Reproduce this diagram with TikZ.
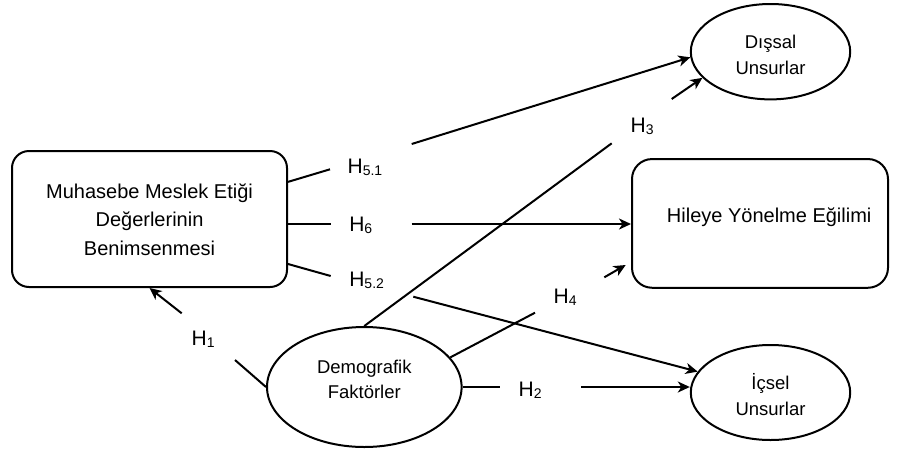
\documentclass[tikz,border=0pt]{standalone}
\usepackage{fontspec}
\setmainfont{Liberation Sans}
\usetikzlibrary{arrows.meta,shapes.geometric}
\newcommand{\hyp}[1]{H\raisebox{-2pt}{\fontsize{14}{14}\selectfont #1}}
\newcommand{\nudge}[2]{\raisebox{#1}[\height][\depth]{#2}}
\newcommand{\lines}[1]{\begin{tabular}{@{}c@{}}#1\end{tabular}}
\tikzset{
  conn/.style={line width=2pt},
  arr/.style={conn,-{Stealth[length=12pt,width=11pt,inset=3.5pt]}},
  boxnode/.style={draw,line width=2pt,rectangle,inner sep=0pt},
  ovalnode/.style={draw,line width=2pt,ellipse,inner sep=0pt,font=\fontsize{18.5}{26}\selectfont},
  hlabel/.style={anchor=base west,inner sep=0pt,font=\fontsize{21}{21}\selectfont}
}
\begin{document}
\begin{tikzpicture}[x=1pt,y=-1pt]
\useasboundingbox[fill=white] (0,0) rectangle (901,453);

% shapes
\node[boxnode,rounded corners=17pt,minimum width=275pt,minimum height=136pt,
      font=\fontsize{20}{28.5}\selectfont] (mm) at (149.5,219)
  {\nudge{-1.8pt}{\lines{Muhasebe Meslek Etiği\\Değerlerinin\\Benimsenmesi}}};
\node[boxnode,rounded corners=20pt,minimum width=256pt,minimum height=128.7pt,
      font=\fontsize{20}{24}\selectfont] (hil) at (760,223.4)
  {\nudge{6.6pt}{\hspace*{18.4pt}Hileye Yönelme Eğilimi}};
\node[ovalnode,minimum width=159.4pt,minimum height=95.4pt] (dis) at (770.5,51.7)
  {\nudge{-4.3pt}{\lines{Dışsal\\Unsurlar}}};
\node[ovalnode,minimum width=159.4pt,minimum height=95pt] (ics) at (770.5,392.5)
  {\nudge{-5pt}{\lines{İçsel\\Unsurlar}}};
\node[ovalnode,minimum width=194.6pt,minimum height=120pt,font=\fontsize{18.5}{25}\selectfont] (dem) at (364.3,387)
  {\nudge{6.3pt}{\lines{Demografik\\Faktörler}}};

% labels
\node[hlabel] (l51) at (347.4,173.3) {\hyp{5.1}};
\node[hlabel] (l6)  at (349.1,231.7) {\hyp{6}};
\node[hlabel] (l52) at (349.1,286.7) {\hyp{5.2}};
\node[hlabel] (l3)  at (630.4,132.3) {\hyp{3}};
\node[hlabel] (l1)  at (191.4,345)   {\hyp{1}};
\node[hlabel] (l4)  at (553.4,303.3) {\hyp{4}};
\node[hlabel] (l2)  at (518.4,396.7) {\hyp{2}};

% connector break points
\coordinate (a51) at (330,169.3);
\coordinate (b51) at (411.7,144);
\coordinate (a6)  at (330.7,224);
\coordinate (b6)  at (411.7,224);
\coordinate (a52) at (330.7,276);
\coordinate (b52) at (413.3,296.7);
\coordinate (a1)  at (235,360);
\coordinate (b1)  at (181.7,313.3);
\coordinate (a3)  at (611.7,143.3);
\coordinate (b3)  at (671.7,99);
\coordinate (a4)  at (535,312.7);
\coordinate (b4)  at (604.3,277.3);
\coordinate (c4)  at (625.7,265);
\coordinate (a2)  at (500,387);
\coordinate (b2)  at (581,387);

% connectors
\draw[conn] (mm.15.1) -- (a51);
\draw[arr]  (b51) -- (dis.184);
\draw[conn] (mm.east |- a6) -- (a6);
\draw[arr]  (b6) -- (b6 -| hil.west);
\draw[conn] (mm.-18.5) -- (a52);
\draw[arr]  (b52) -- (ics.164);
\draw[conn] (dem.west) -- (a1);
\draw[arr]  (b1) -- (mm.south);
\draw[conn] (dem.north) -- (a3);
\draw[arr]  (b3) -- (dis.201);
\draw[conn] (dem.19) -- (a4);
\draw[arr]  (b4) -- (c4);
\draw[conn] (dem.east) -- (a2);
\draw[arr]  (b2) -- (b2 -| ics.west);
\end{tikzpicture}
\end{document}
